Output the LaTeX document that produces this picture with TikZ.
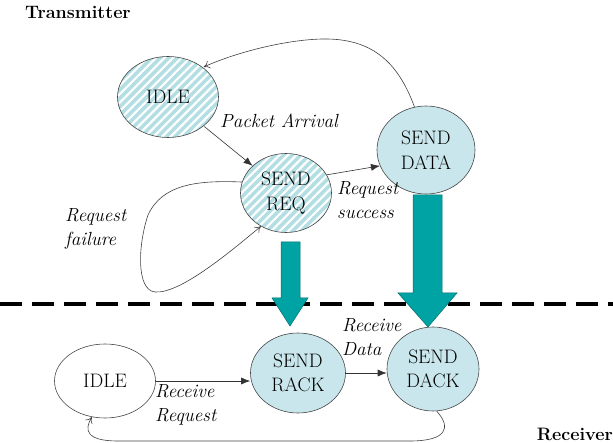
\documentclass[tikz,border=0pt]{standalone}
\usepackage{fontspec}
\usetikzlibrary{shapes.geometric,arrows.meta,patterns.meta}
\definecolor{hatchcyan}{RGB}{178,222,228}
\definecolor{solidcyan}{RGB}{200,230,235}
\definecolor{tealfill}{RGB}{0,163,163}
\definecolor{tealdraw}{RGB}{0,110,110}
\definecolor{edgegray}{RGB}{70,70,70}
\tikzset{
  state/.style={ellipse, draw=edgegray, line width=0.6pt, inner sep=0pt, align=center,
    font=\fontsize{19.5}{24.5}\selectfont},
  hatched/.style={state, preaction={fill=hatchcyan},
    pattern={Lines[angle=45,distance=6pt,line width=2.2pt]}, pattern color=white},
  solidstate/.style={state, fill=solidcyan},
  whitestate/.style={state, fill=white},
  lbl/.style={font=\fontsize{19}{24.5}\selectfont\itshape, align=left, inner sep=0pt},
  title/.style={font=\fontsize{18}{22}\selectfont\bfseries, inner sep=0pt},
  solidarrow/.style={draw=black!80, line width=0.6pt, -{Latex[length=9pt,width=7pt]}},
  openarrow/.style={draw=black!75, line width=0.6pt, -{To[length=6pt,width=8pt]}},
  blockarrow/.style={fill=tealfill, draw=tealdraw, line width=0.5pt}
}
\begin{document}
\begin{tikzpicture}[x=1pt,y=-1pt]
\useasboundingbox (0,0) rectangle (613,443);

% titles
\node[title, anchor=base west] (tx) at (25,19) {Transmitter};
\node[title, anchor=base east] (rx) at (613,440) {Receiver};

% dashed separator
\draw[line width=4pt, dash pattern=on 22pt off 10pt] (0,304) -- (613,304);

% transmitter states
\node[hatched, minimum width=101pt, minimum height=81pt] (idleT) at (168,97) {IDLE};
\node[hatched, minimum width=91pt, minimum height=79pt] (req) at (286,193) {SEND\\REQ};
\node[solidstate, minimum width=98pt, minimum height=88pt] (data) at (426,150) {SEND\\DATA};

% receiver states
\node[whitestate, minimum width=101pt, minimum height=74pt] (idleR) at (105,381) {IDLE};
\node[solidstate, minimum width=95pt, minimum height=80pt] (rack) at (298,373) {SEND\\RACK};
\node[solidstate, minimum width=92pt, minimum height=84pt] (dack) at (433,369) {SEND\\DACK};

% block arrows
\filldraw[blockarrow] (281,242) -- (300,242) -- (300,298) -- (308,298) -- (290,326)
  -- (272,298) -- (281,298) -- cycle;
\filldraw[blockarrow] (413,195) -- (442,195) -- (442,293) -- (457,293) -- (428,327)
  -- (398,293) -- (413,293) -- cycle;

% transmitter connectors
\draw[solidarrow] (idleT) -- (req);
\draw[solidarrow] (req.24) -- (data.199);
\draw[openarrow] (data.105) .. controls (398,62) and (372,38) .. (322,39)
  .. controls (282,40) and (232,54) .. (idleT.40);
\draw[openarrow] (req.166) .. controls (195,180) and (162,185) .. (148,215)
  .. controls (138,245) and (136,290) .. (155,292)
  .. controls (180,294) and (230,252) .. (req.233);

% receiver connectors
\draw[solidarrow] (idleR.east) -- (idleR.east -| rack.west);
\draw[solidarrow] (rack.east) -- (rack.east -| dack.west);
\draw[openarrow] (dack.-85) .. controls (452,428) and (446,441) .. (410,441)
  -- (118,441) .. controls (86,441) and (84,430) .. (idleR.-110);

% labels
\node[lbl, anchor=base west] (pa) at (220,128) {Packet Arrival};
\node[lbl, anchor=north west] (rs) at (337,181) {Request\\success};
\node[lbl, anchor=north west] (rf) at (65,208) {Request\\failure};
\node[lbl, anchor=north west] (rr) at (155,384) {Receive\\Request};
\node[lbl, anchor=north west] (rd) at (342,318) {Receive\\Data};
\end{tikzpicture}
\end{document}
